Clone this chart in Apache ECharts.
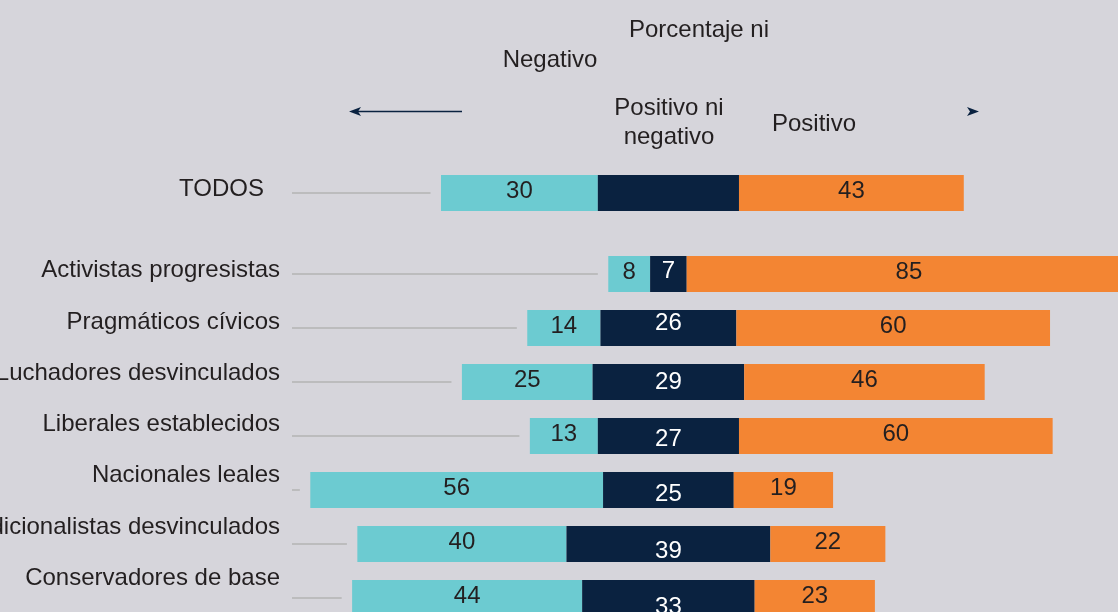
<!DOCTYPE html>
<html>
<head>
<meta charset="utf-8">
<script src="https://cdn.jsdelivr.net/npm/echarts@6/dist/echarts.min.js"></script>
<style>
  html, body { margin: 0; padding: 0; background: #d6d5db; }
  #chart { width: 1118px; height: 612px; }
</style>
</head>
<body>
<div id="chart"></div>
<script>
  // datos
  const groups = [
    'TODOS',
    'Activistas progresistas',
    'Pragmáticos cívicos',
    'Luchadores desvinculados',
    'Liberales establecidos',
    'Nacionales leales',
    'Tradicionalistas desvinculados',
    'Conservadores de base',
  ];
  const negativo = [30, 8, 14, 25, 13, 56, 40, 44];
  const neutro = [27, 7, 26, 29, 27, 25, 39, 33];
  const positivo = [43, 85, 60, 46, 60, 19, 22, 23];
  const neutroConEtiqueta = [false, true, true, true, true, true, true, true];

  // posicion de cada fila (hueco despues de TODOS)
  const SLOTS = 16;
  const rowSlot = [0, 3, 5, 7, 9, 11, 13, 15];
  const CENTER = 72;
  const GAP = 2;

  // ajustes de texto
  const labelShift = [4, 4, 6, 9, 12, 15, 17, 20];
  const navyDy = [0, -3, -5, 0, 3, 4, 7, 9];

  const cyan = '#6ccbd1';
  const navy = '#0a2240';
  const orange = '#f38533';
  const ink = '#231f20';
  const font = "'Liberation Sans', Arial, sans-serif";

  const cats = new Array(SLOTS).fill('');
  rowSlot.forEach((s, i) => (cats[s] = groups[i]));

  function bySlot(fn) {
    const arr = new Array(SLOTS).fill(null);
    rowSlot.forEach((s, i) => (arr[s] = fn(i)));
    return arr;
  }

  const base = bySlot((i) => CENTER - neutro[i] / 2 - negativo[i]);

  const rich = {};
  rowSlot.forEach((s, i) => {
    rich['r' + s] = {
      fontSize: 24,
      fontFamily: font,
      color: ink,
      padding: [0, i === 0 ? 16 : 0, labelShift[i] * 2, 0],
    };
  });

  const chart = echarts.init(document.getElementById('chart'));

  const option = {
    backgroundColor: '#d6d5db',
    animation: false,
    textStyle: { fontFamily: font },
    grid: {
      left: 292,
      right: 0,
      top: 179.5,
      bottom: 0.5,
      containLabel: false,
      outerBoundsMode: 'none',
    },
    xAxis: { type: 'value', min: 0, max: 158, show: false },
    yAxis: {
      type: 'category',
      inverse: true,
      data: cats,
      axisLine: { show: false },
      axisTick: { show: false },
      splitLine: { show: false },
      axisLabel: {
        interval: 0,
        margin: 12,
        formatter: (v, idx) => (v ? '{r' + idx + '|' + v + '}' : ''),
        rich: rich,
      },
    },
    series: [
      {
        type: 'bar',
        stack: 'fila',
        barWidth: 36,
        silent: true,
        clip: false,
        itemStyle: { color: 'transparent' },
        data: base,
      },
      {
        type: 'bar',
        stack: 'fila',
        name: 'Negativo',
        clip: false,
        itemStyle: { color: cyan },
        label: { show: true, color: ink, fontSize: 24, fontFamily: font, offset: [0, -2] },
        data: bySlot((i) => negativo[i]),
      },
      {
        type: 'bar',
        stack: 'fila',
        name: 'Positivo ni negativo',
        clip: false,
        itemStyle: { color: navy },
        label: { show: true, color: '#ffffff', fontSize: 24, fontFamily: font },
        data: bySlot((i) => ({
          value: neutro[i],
          label: { show: neutroConEtiqueta[i], offset: [0, navyDy[i]] },
        })),
      },
      {
        type: 'bar',
        stack: 'fila',
        name: 'Positivo',
        clip: false,
        itemStyle: { color: orange },
        label: { show: true, color: ink, fontSize: 24, fontFamily: font, offset: [0, -2] },
        data: bySlot((i) => positivo[i]),
      },
      {
        type: 'custom',
        silent: true,
        clip: false,
        encode: { x: [0, 1], y: 2 },
        renderItem: (params, api) => {
          const a = api.coord([api.value(0), api.value(2)]);
          const b = api.coord([api.value(1), api.value(2)]);
          return {
            type: 'line',
            shape: { x1: a[0], y1: a[1], x2: b[0], y2: b[1] },
            style: { stroke: '#b3b3b3', lineWidth: 1.5 },
          };
        },
        data: rowSlot.map((s, i) => [0, CENTER - neutro[i] / 2 - negativo[i] - GAP, s]),
      },
    ],
    graphic: [
      { type: 'text', x: 699, y: 30, style: { text: 'Porcentaje ni', fill: ink, fontSize: 24, fontFamily: font, align: 'center', verticalAlign: 'middle' } },
      { type: 'text', x: 550, y: 60, style: { text: 'Negativo', fill: ink, fontSize: 24, fontFamily: font, align: 'center', verticalAlign: 'middle' } },
      { type: 'text', x: 669, y: 108, style: { text: 'Positivo ni', fill: ink, fontSize: 24, fontFamily: font, align: 'center', verticalAlign: 'middle' } },
      { type: 'text', x: 669, y: 137, style: { text: 'negativo', fill: ink, fontSize: 24, fontFamily: font, align: 'center', verticalAlign: 'middle' } },
      { type: 'text', x: 814, y: 124, style: { text: 'Positivo', fill: ink, fontSize: 24, fontFamily: font, align: 'center', verticalAlign: 'middle' } },
      { type: 'line', shape: { x1: 357, y1: 111.5, x2: 462, y2: 111.5 }, style: { stroke: navy, lineWidth: 1.5 } },
      { type: 'polygon', shape: { points: [[349, 111.5], [361, 107], [358, 111.5], [361, 116]] }, style: { fill: navy } },
      { type: 'polygon', shape: { points: [[979, 111.5], [967, 107], [970, 111.5], [967, 116]] }, style: { fill: navy } },
    ],
  };

  chart.setOption(option);
  window.addEventListener('resize', chart.resize);
</script>
</body>
</html>
